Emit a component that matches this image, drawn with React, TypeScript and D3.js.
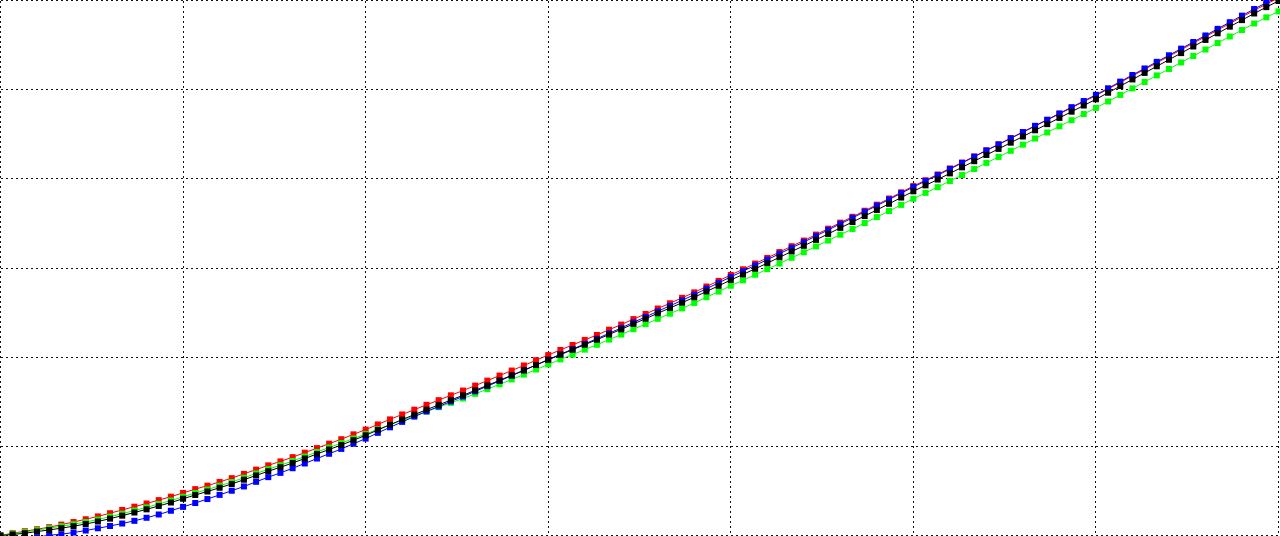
import React from "react";
import * as d3 from "d3";

const WIDTH = 1280;
const HEIGHT = 536;

// sample positions (index of each marker along the horizontal axis)
const xSamples: number[] = d3.range(0, 106);

const xTicks: number[] = [0, 15, 30, 45, 60, 75, 90, 105];
const yTicks: number[] = [0, 90, 180, 270, 360, 450, 540];

const blackSeries: number[] = [
  0, 1.0, 2.3, 4.0, 5.6, 7.4, 9.4, 11.6, 14.1, 17.0,
  20.0, 23.2, 26.4, 29.8, 33.3, 37.1, 40.9, 44.4, 48.2, 52.0,
  56.3, 60.6, 64.9, 68.9, 73.2, 77.7, 82.3, 86.8, 91.3, 96.2,
  101.1, 106.5, 111.8, 117.0, 122.0, 127.0, 131.8, 136.7, 141.5, 146.5,
  151.5, 156.6, 161.7, 166.8, 172.1, 177.3, 182.5, 187.5, 192.6, 197.6,
  202.9, 208.1, 213.6, 218.8, 224.3, 229.6, 235.0, 240.5, 246.3, 252.0,
  257.9, 263.5, 269.2, 274.9, 280.8, 286.7, 292.4, 298.4, 304.4, 310.5,
  316.4, 322.5, 328.6, 334.8, 341.1, 347.4, 353.4, 359.3, 365.5, 371.6,
  377.8, 384.1, 390.2, 396.5, 402.7, 409.0, 415.2, 421.5, 427.8, 434.0,
  440.3, 446.9, 453.6, 460.3, 466.9, 473.6, 480.2, 486.9, 493.6, 500.2,
  506.9, 513.6, 520.2, 526.9, 533.3, 539.5,
];

const redSeries: number[] = [
  0, 2.3, 4.3, 6.3, 8.4, 11.0, 13.6, 16.4, 19.3, 22.5,
  25.8, 29.1, 32.3, 35.7, 39.2, 43.0, 46.8, 50.3, 54.1, 57.9,
  62.2, 66.5, 70.8, 74.8, 79.1, 83.6, 88.2, 92.7, 97.2, 102.1,
  106.9, 112.1, 117.2, 122.2, 127.0, 131.9, 136.6, 141.5, 146.3, 151.3,
  156.3, 161.4, 166.5, 171.6, 176.9, 182.1, 187.3, 192.3, 197.4, 202.4,
  207.7, 212.9, 218.4, 223.6, 229.1, 234.4, 239.9, 245.4, 251.3, 257.0,
  263.0, 268.7, 274.5, 280.2, 286.1, 292.0, 297.7, 303.7, 309.7, 315.8,
  321.7, 327.8, 333.9, 340.1, 346.4, 352.7, 358.6, 364.4, 370.5, 376.5,
  382.6, 388.8, 394.8, 401.0, 407.1, 413.3, 419.4, 425.6, 431.8, 437.9,
  444.1, 450.6, 457.3, 463.9, 470.5, 477.1, 483.7, 490.3, 497.0, 503.5,
  510.2, 516.8, 523.4, 530.0, 536.4, 542.5,
];

const blueSeries: number[] = [
  -3.6, -3.2, -2.6, -1.8, 0.3, 1.3, 3.0, 5.0, 7.3, 9.6,
  12.1, 14.8, 17.9, 21.2, 25.0, 28.9, 32.8, 36.8, 41.0, 45.2,
  49.5, 54.2, 58.9, 63.2, 67.9, 72.7, 77.7, 82.5, 87.4, 92.6,
  97.8, 103.6, 109.2, 114.7, 120.0, 125.2, 130.2, 135.3, 140.3, 145.5,
  150.7, 156.0, 161.3, 166.6, 172.1, 177.5, 182.9, 188.1, 193.4, 198.6,
  204.1, 209.5, 215.2, 220.6, 226.3, 231.8, 237.4, 243.1, 249.1, 255.0,
  261.0, 266.8, 272.6, 278.4, 284.4, 290.4, 296.2, 302.3, 308.4, 314.6,
  320.6, 326.8, 332.9, 339.1, 345.5, 351.8, 357.8, 363.7, 369.9, 376.0,
  382.3, 388.6, 394.7, 401.0, 407.2, 413.5, 419.7, 426.0, 432.3, 438.5,
  444.8, 451.4, 458.1, 464.8, 471.4, 478.1, 484.7, 491.4, 498.1, 504.7,
  511.4, 518.1, 524.7, 531.4, 537.8, 544.0,
];

const greenSeries: number[] = [
  0, 1.8, 3.5, 5.5, 7.4, 9.4, 11.4, 13.6, 16.1, 19.0,
  22.0, 25.2, 28.4, 31.8, 35.3, 39.1, 42.9, 46.4, 50.2, 54.0,
  58.3, 62.6, 66.9, 70.9, 75.2, 79.7, 84.3, 88.8, 93.3, 97.9,
  102.4, 107.2, 111.8, 116.4, 120.8, 125.2, 129.5, 133.9, 138.3, 143.0,
  147.7, 152.6, 157.5, 162.4, 167.5, 172.6, 177.7, 182.6, 187.6, 192.5,
  197.7, 202.8, 208.2, 213.3, 218.7, 223.9, 229.2, 234.7, 240.5, 246.2,
  252.1, 257.6, 263.2, 268.8, 274.5, 280.3, 285.9, 291.8, 297.7, 303.6,
  309.4, 315.4, 321.4, 327.5, 333.7, 339.9, 345.8, 351.6, 357.8, 363.8,
  369.9, 376.1, 382.1, 388.3, 394.5, 400.7, 406.8, 413.0, 419.2, 425.4,
  431.6, 438.1, 444.7, 451.3, 457.8, 464.4, 470.9, 477.5, 484.0, 490.5,
  497.1, 503.7, 510.2, 516.8, 523.0, 529.0,
];

const seriesColors: string[] = ["#ff0000", "#00ff00", "#0000ff", "#000000"];
const seriesList: number[][] = [redSeries, greenSeries, blueSeries, blackSeries];

export default function App() {
  const x = d3.scaleLinear().domain([0, 105]).range([0.5, 1278.5]);
  const y = d3.scaleLinear().domain([0, 540]).range([535.5, 0.5]);
  const line = d3
    .line<number>()
    .x((_, i) => x(xSamples[i]))
    .y((d) => y(d));
  const m = 6;

  return (
    <div style={{ position: "fixed", left: 0, top: 0, width: WIDTH, height: HEIGHT, background: "#fff" }}>
      <svg width={WIDTH} height={HEIGHT} style={{ display: "block" }}>
        <defs>
          <clipPath id="plotclip">
            <rect x={0} y={0} width={WIDTH} height={536} />
          </clipPath>
        </defs>
        <rect x={0} y={0} width={WIDTH} height={HEIGHT} fill="#fff" />
        <g shapeRendering="crispEdges">
          {xTicks.map((t) => (
            <line
              key={"gx" + t}
              x1={Math.round(x(t) - 0.5) + 0.5}
              x2={Math.round(x(t) - 0.5) + 0.5}
              y1={y(540)}
              y2={y(0)}
              stroke="#111"
              strokeWidth={1}
              strokeDasharray="2 3"
            />
          ))}
          {yTicks.map((t) => (
            <line
              key={"gy" + t}
              x1={x(0)}
              x2={x(105)}
              y1={Math.round(y(t) - 0.5) + 0.5}
              y2={Math.round(y(t) - 0.5) + 0.5}
              stroke="#111"
              strokeWidth={1}
              strokeDasharray="2 3"
            />
          ))}
        </g>
        <g clipPath="url(#plotclip)">
          {seriesList.map((s, k) => (
            <g key={"s" + k}>
              <path d={line(s) || ""} fill="none" stroke={seriesColors[k]} strokeWidth={1} />
              {s.map((v, i) => (
                <rect
                  key={i}
                  x={x(xSamples[i]) - m / 2}
                  y={y(v) - m / 2}
                  width={m}
                  height={m}
                  fill={seriesColors[k]}
                />
              ))}
            </g>
          ))}
        </g>
      </svg>
    </div>
  );
}
